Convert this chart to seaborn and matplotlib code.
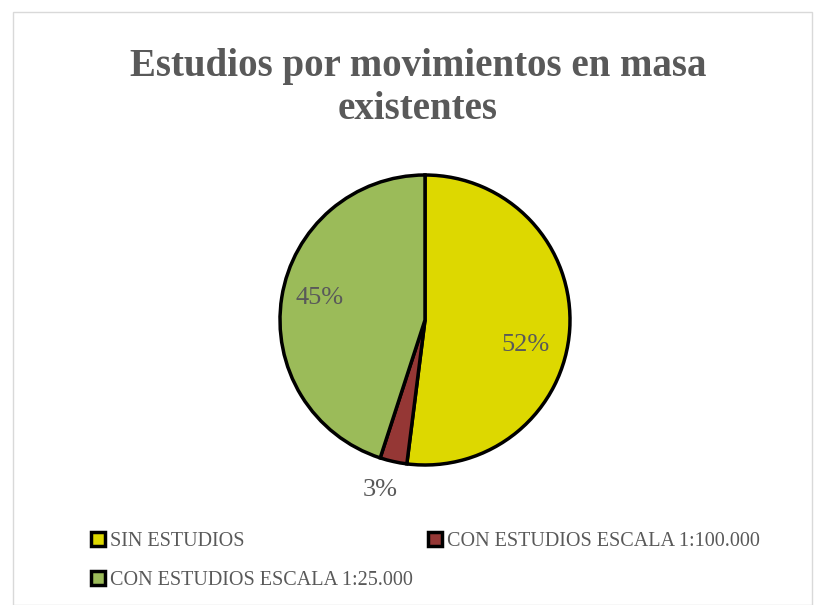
import matplotlib
matplotlib.use("Agg")
import matplotlib.pyplot as plt
import seaborn as sns
from matplotlib.patches import Rectangle

# data
categories = ["SIN ESTUDIOS", "CON ESTUDIOS ESCALA 1:100.000", "CON ESTUDIOS ESCALA 1:25.000"]
values = [52, 3, 45]
colors = ["#DDD800", "#953735", "#9BBB59"]
label_pos = [(0.69, -0.17), (-0.31, -1.17), (-0.73, 0.15)]

sns.set_theme(style="white")
plt.rcParams['font.family'] = ['Liberation Serif', 'DejaVu Serif']
text_col = "#595959"

fig = plt.figure(figsize=(8.25, 6.05), dpi=100)
fig.add_artist(Rectangle((13 / 825, 0), 799 / 825, 593 / 605, transform=fig.transFigure,
                         fill=False, edgecolor="#D9D9D9", linewidth=1))

r = 145
ax = fig.add_axes([(425 - r) / 825, (605 - 320 - r) / 605, 2 * r / 825, 2 * r / 605])
wedges, _ = ax.pie(values, colors=colors, startangle=90, counterclock=False, radius=1,
                   wedgeprops=dict(edgecolor="black", linewidth=2.5))
ax.set_xlim(-1, 1)
ax.set_ylim(-1, 1)
ax.set_aspect("auto")
ax.axis("off")

for v, (x, y) in zip(values, label_pos):
    ax.text(x, y, f"{v}%", ha="center", va="center", fontsize=19, color=text_col)

fig.text(418 / 825, 1 - 88 / 605, "Estudios por movimientos en masa\nexistentes",
         ha="center", va="center", fontsize=28, fontweight="bold", color=text_col,
         linespacing=1.2)

order = [0, 2, 1]
leg = fig.legend([wedges[i] for i in order], [categories[i] for i in order], ncol=2,
                 loc="upper left", bbox_to_anchor=(73 / 825, 1 - 514 / 605), frameon=False,
                 fontsize=14.5, handlelength=0.7, handleheight=0.7, handletextpad=0.25,
                 columnspacing=0.75, labelspacing=1.0, labelcolor=text_col)

fig.savefig("out.png", dpi=100)
